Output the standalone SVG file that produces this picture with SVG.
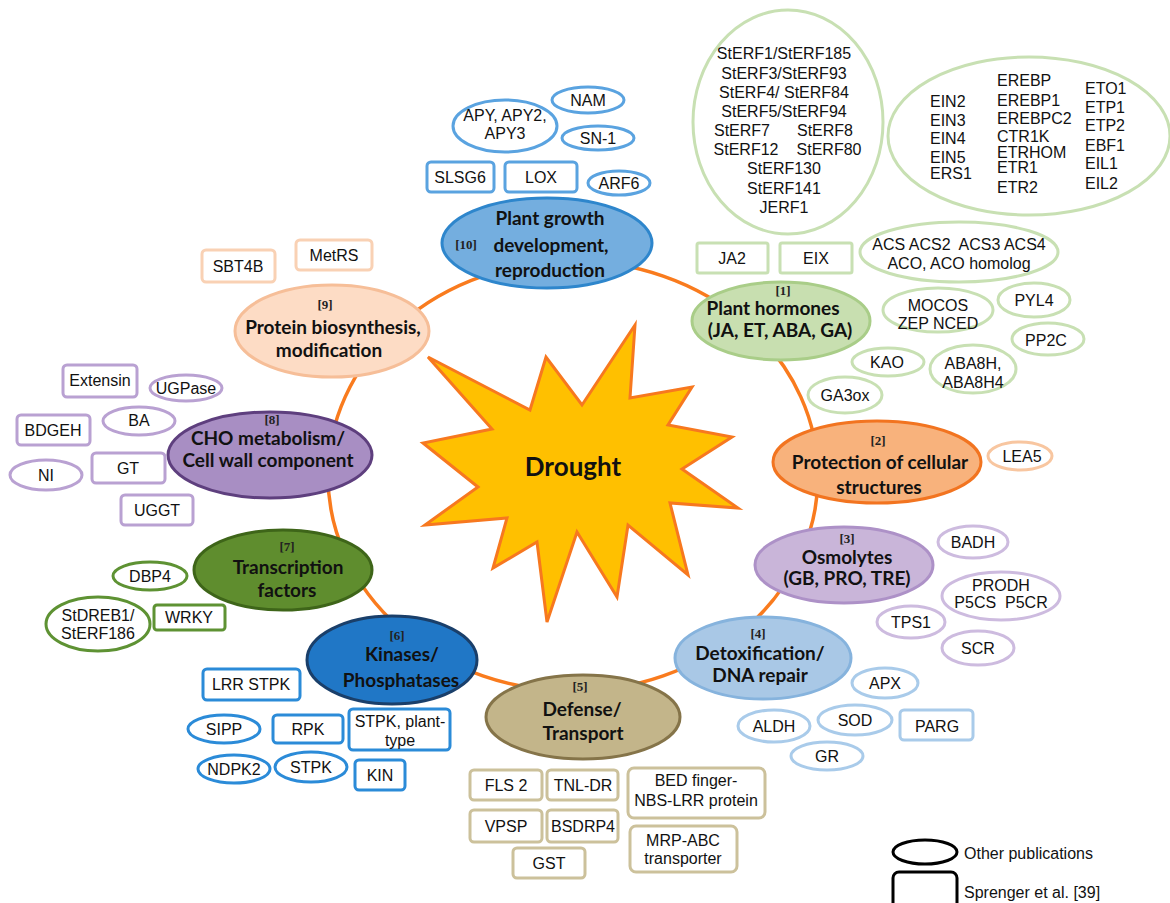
<svg xmlns="http://www.w3.org/2000/svg" width="1170" height="903" viewBox="0 0 1170 903">
<style>
.g{font-family:"Liberation Sans",Arial,sans-serif;font-size:16px;fill:#111;text-anchor:middle;white-space:pre}
.gs{font-family:"Liberation Sans",Arial,sans-serif;font-size:16px;fill:#111}
.c{font-family:Lato,"Open Sans",sans-serif;font-weight:bold;font-size:19px;fill:#111;text-anchor:middle}
.n{font-family:"Liberation Serif","Times New Roman",serif;font-weight:bold;font-size:13px;fill:#222;text-anchor:middle}
.s{fill:#fff;stroke-width:3}
.pg{stroke:#5AA3E0}.ph{stroke:#C8E0B3}.pr{stroke:#F8C6A0}.os{stroke:#CDBBDF}.dt{stroke:#A9CBEA}
.df{stroke:#CCC19B}.ki{stroke:#2B8BD8}.tf{stroke:#5E9233}.ch{stroke:#B9A1D2}.pb{stroke:#F9D1B4}
</style>
<rect width="1170" height="903" fill="#fff"/>
<g id="connectors">
<ellipse cx="573" cy="476" rx="245" ry="215" fill="none" stroke="#F97B1E" stroke-width="3.5"/>
</g>
<g id="drought">
<polygon points="635,325 630,398 692,387 668,425 732,437 682,469 738,508 670,503 688,575 628,525 617,597 577,532 547,622 537,542 493,568 507,518 425,525 478,487 423,443 492,429 428,357 530,410 546,357 582,405" fill="#FFC000" stroke="#F7781F" stroke-width="3" stroke-linejoin="miter"/>
<text x="573" y="476" class="c" style="font-size:26px">Drought</text>
</g>
<g id="cat10">
<ellipse cx="547" cy="243" rx="105" ry="45" fill="#74AEDF" stroke="#2E86CC" stroke-width="3"/>
<text x="466" y="249" class="n">[10]</text>
<text x="550" y="225" class="c">Plant growth</text>
<text x="551" y="252" class="c">development,</text>
<text x="550" y="277" class="c">reproduction</text>
</g>
<g id="cat1">
<ellipse cx="781" cy="321" rx="89" ry="39" fill="#C8DFB0" stroke="#A9CD88" stroke-width="3"/>
<text x="783" y="295" class="n">[1]</text>
<text x="773" y="315" class="c">Plant hormones</text>
<text x="780" y="337" class="c">(JA, ET, ABA, GA)</text>
</g>
<g id="cat2">
<ellipse cx="877" cy="462" rx="104" ry="41" fill="#F8B27C" stroke="#F27420" stroke-width="3"/>
<text x="878" y="445" class="n">[2]</text>
<text x="880" y="469" class="c">Protection of cellular</text>
<text x="879" y="494" class="c">structures</text>
</g>
<g id="cat3">
<ellipse cx="844" cy="565" rx="89" ry="38" fill="#C9B5D9" stroke="#AD91C7" stroke-width="3"/>
<text x="847" y="543" class="n">[3]</text>
<text x="847" y="564" class="c">Osmolytes</text>
<text x="847" y="585" class="c">(GB, PRO, TRE)</text>
</g>
<g id="cat4">
<ellipse cx="763" cy="658" rx="88" ry="41" fill="#A9C8E6" stroke="#86B3DD" stroke-width="3"/>
<text x="758" y="638" class="n">[4]</text>
<text x="760" y="660" class="c">Detoxification/</text>
<text x="760" y="682" class="c">DNA repair</text>
</g>
<g id="cat5">
<ellipse cx="583" cy="717" rx="97" ry="42" fill="#C3B58A" stroke="#857449" stroke-width="3"/>
<text x="580" y="691" class="n">[5]</text>
<text x="582" y="716" class="c">Defense/</text>
<text x="583" y="740" class="c">Transport</text>
</g>
<g id="cat6">
<ellipse cx="392" cy="660" rx="85" ry="44" fill="#2077C6" stroke="#1A3F6A" stroke-width="3"/>
<text x="397" y="640" class="n">[6]</text>
<text x="402" y="661" class="c">Kinases/</text>
<text x="401" y="687" class="c">Phosphatases</text>
</g>
<g id="cat7">
<ellipse cx="283" cy="570" rx="89" ry="40" fill="#5F8D2E" stroke="#3E6519" stroke-width="3"/>
<text x="287" y="551" class="n">[7]</text>
<text x="288" y="574" class="c">Transcription</text>
<text x="287" y="597" class="c">factors</text>
</g>
<g id="cat8">
<ellipse cx="270" cy="455" rx="102" ry="43" fill="#A88EC3" stroke="#5E3F7E" stroke-width="3"/>
<text x="272" y="424" class="n">[8]</text>
<text x="268" y="445" class="c">CHO metabolism/</text>
<text x="268" y="467" class="c">Cell wall component</text>
</g>
<g id="cat9">
<ellipse cx="332" cy="331" rx="97" ry="46" fill="#FDDCC5" stroke="#F6BE98" stroke-width="3"/>
<text x="325" y="309" class="n">[9]</text>
<text x="333" y="334" class="c">Protein biosynthesis,</text>
<text x="329" y="357" class="c">modification</text>
</g>
<!-- plant growth genes -->
<g id="APY"><ellipse cx="505" cy="126" rx="52" ry="26" class="s pg"/><text x="505" y="121" class="g">APY, APY2,</text><text x="505" y="139" class="g">APY3</text></g>
<g id="NAM"><ellipse cx="588" cy="100" rx="36" ry="13" class="s pg"/><text x="588" y="106" class="g">NAM</text></g>
<g id="SN1"><ellipse cx="598" cy="138" rx="36" ry="12" class="s pg"/><text x="598" y="144" class="g">SN-1</text></g>
<g id="SLSG6"><rect x="427" y="162" width="67" height="30" rx="4" class="s pg"/><text x="460" y="183" class="g">SLSG6</text></g>
<g id="LOX"><rect x="505" y="162" width="72" height="30" rx="4" class="s pg"/><text x="541" y="183" class="g">LOX</text></g>
<g id="ARF6"><ellipse cx="619" cy="183" rx="31" ry="12" class="s pg"/><text x="619" y="189" class="g">ARF6</text></g>
<!-- hormone genes -->
<g id="StERF"><ellipse cx="788" cy="122" rx="95" ry="112" class="s ph"/>
<text x="784" y="59" class="g">StERF1/StERF185</text>
<text x="784" y="79" class="g">StERF3/StERF93</text>
<text x="784" y="98" class="g">StERF4/ StERF84</text>
<text x="784" y="117" class="g">StERF5/StERF94</text>
<text x="742" y="136" class="g">StERF7</text><text x="825" y="136" class="g">StERF8</text>
<text x="746" y="155" class="g">StERF12</text><text x="829" y="155" class="g">StERF80</text>
<text x="784" y="174" class="g">StERF130</text>
<text x="784" y="194" class="g">StERF141</text>
<text x="784" y="213" class="g">JERF1</text>
</g>
<g id="EIN"><ellipse cx="1029" cy="136" rx="141" ry="79" class="s ph"/>
<text x="930" y="107" class="gs">EIN2</text><text x="930" y="126" class="gs">EIN3</text><text x="930" y="144" class="gs">EIN4</text><text x="930" y="163" class="gs">EIN5</text><text x="930" y="179" class="gs">ERS1</text>
<text x="997" y="86" class="gs">EREBP</text><text x="997" y="106" class="gs">EREBP1</text><text x="997" y="124" class="gs">EREBPC2</text><text x="997" y="142" class="gs">CTR1K</text><text x="997" y="158" class="gs">ETRHOM</text><text x="997" y="173" class="gs">ETR1</text><text x="997" y="193" class="gs">ETR2</text>
<text x="1085" y="94" class="gs">ETO1</text><text x="1085" y="113" class="gs">ETP1</text><text x="1085" y="131" class="gs">ETP2</text><text x="1085" y="151" class="gs">EBF1</text><text x="1085" y="169" class="gs">EIL1</text><text x="1085" y="189" class="gs">EIL2</text>
</g>
<g id="JA2"><rect x="697" y="243" width="71" height="30" rx="2" class="s ph"/><text x="732" y="264" class="g">JA2</text></g>
<g id="EIX"><rect x="780" y="243" width="72" height="30" rx="2" class="s ph"/><text x="816" y="264" class="g">EIX</text></g>
<g id="ACS"><ellipse cx="959" cy="252" rx="99" ry="30" class="s ph"/><text x="959" y="250" class="g">ACS ACS2  ACS3 ACS4</text><text x="959" y="269" class="g">ACO, ACO homolog</text></g>
<g id="MOCOS"><ellipse cx="938" cy="310" rx="55" ry="22" class="s ph"/><text x="938" y="311" class="g">MOCOS</text><text x="938" y="329" class="g">ZEP NCED</text></g>
<g id="PYL4"><ellipse cx="1034" cy="300" rx="36" ry="17" class="s ph"/><text x="1034" y="306" class="g">PYL4</text></g>
<g id="PP2C"><ellipse cx="1048" cy="339" rx="36" ry="16" class="s ph"/><text x="1046" y="346" class="g">PP2C</text></g>
<g id="KAO"><ellipse cx="888" cy="362" rx="36" ry="14" class="s ph"/><text x="887" y="368" class="g">KAO</text></g>
<g id="ABA8H"><ellipse cx="973" cy="369" rx="43" ry="24" class="s ph"/><text x="973" y="369" class="g">ABA8H,</text><text x="973" y="388" class="g">ABA8H4</text></g>
<g id="GA3ox"><ellipse cx="845" cy="395" rx="37" ry="18" class="s ph"/><text x="845" y="401" class="g">GA3ox</text></g>
<!-- protection -->
<g id="LEA5"><ellipse cx="1020" cy="456" rx="32" ry="14" class="s pr"/><text x="1022" y="462" class="g">LEA5</text></g>
<!-- osmolytes -->
<g id="BADH"><ellipse cx="973" cy="542" rx="35" ry="16" class="s os"/><text x="973" y="548" class="g">BADH</text></g>
<g id="PRODH"><ellipse cx="1001" cy="596" rx="59" ry="24" class="s os"/><text x="1001" y="591" class="g">PRODH</text><text x="1001" y="608" class="g">P5CS  P5CR</text></g>
<g id="TPS1"><ellipse cx="911" cy="622" rx="34" ry="16" class="s os"/><text x="911" y="628" class="g">TPS1</text></g>
<g id="SCR"><ellipse cx="978" cy="648" rx="36" ry="17" class="s os"/><text x="978" y="654" class="g">SCR</text></g>
<!-- detox -->
<g id="APX"><ellipse cx="885" cy="683" rx="33" ry="15" class="s dt"/><text x="885" y="689" class="g">APX</text></g>
<g id="SOD"><ellipse cx="855" cy="720" rx="37" ry="15" class="s dt"/><text x="855" y="726" class="g">SOD</text></g>
<g id="ALDH"><ellipse cx="774" cy="726" rx="36" ry="16" class="s dt"/><text x="774" y="732" class="g">ALDH</text></g>
<g id="GR"><ellipse cx="827" cy="756" rx="36" ry="14" class="s dt"/><text x="827" y="762" class="g">GR</text></g>
<g id="PARG"><rect x="900" y="710" width="73" height="30" rx="4" class="s dt"/><text x="937" y="732" class="g">PARG</text></g>
<!-- defense -->
<g id="FLS2"><rect x="470" y="770" width="72" height="30" rx="4" class="s df"/><text x="506" y="791" class="g">FLS 2</text></g>
<g id="TNLDR"><rect x="547" y="770" width="71" height="30" rx="4" class="s df"/><text x="583" y="791" class="g">TNL-DR</text></g>
<g id="VPSP"><rect x="470" y="810" width="72" height="32" rx="4" class="s df"/><text x="506" y="832" class="g">VPSP</text></g>
<g id="BSDRP4"><rect x="547" y="810" width="71" height="32" rx="4" class="s df"/><text x="583" y="832" class="g">BSDRP4</text></g>
<g id="GST"><rect x="513" y="848" width="72" height="30" rx="4" class="s df"/><text x="549" y="869" class="g">GST</text></g>
<g id="BED"><rect x="628" y="768" width="137" height="50" rx="6" class="s df"/><text x="696" y="786" class="g">BED finger-</text><text x="696" y="806" class="g">NBS-LRR protein</text></g>
<g id="MRP"><rect x="630" y="826" width="107" height="46" rx="6" class="s df"/><text x="683" y="846" class="g">MRP-ABC</text><text x="683" y="864" class="g">transporter</text></g>
<!-- kinases -->
<g id="LRRSTPK"><rect x="203" y="669" width="97" height="31" rx="4" class="s ki"/><text x="251" y="690" class="g">LRR STPK</text></g>
<g id="SIPP"><ellipse cx="224" cy="729" rx="36" ry="14" class="s ki"/><text x="224" y="735" class="g">SIPP</text></g>
<g id="RPK"><rect x="273" y="715" width="70" height="28" rx="4" class="s ki"/><text x="308" y="735" class="g">RPK</text></g>
<g id="STPKplant"><rect x="349" y="709" width="101" height="41" rx="4" class="s ki"/><text x="400" y="727" class="g">STPK, plant-</text><text x="400" y="746" class="g">type</text></g>
<g id="NDPK2"><ellipse cx="234" cy="769" rx="36" ry="14" class="s ki"/><text x="234" y="775" class="g">NDPK2</text></g>
<g id="STPK"><ellipse cx="311" cy="767" rx="36" ry="15" class="s ki"/><text x="311" y="773" class="g">STPK</text></g>
<g id="KIN"><rect x="355" y="760" width="50" height="30" rx="4" class="s ki"/><text x="380" y="781" class="g">KIN</text></g>
<!-- transcription factors -->
<g id="DBP4"><ellipse cx="150" cy="576" rx="37" ry="14" class="s tf"/><text x="150" y="582" class="g">DBP4</text></g>
<g id="StDREB1"><ellipse cx="98" cy="624" rx="52" ry="27" class="s tf"/><text x="98" y="621" class="g">StDREB1/</text><text x="98" y="639" class="g">StERF186</text></g>
<g id="WRKY"><rect x="154" y="605" width="71" height="25" rx="3" class="s tf"/><text x="189" y="623" class="g">WRKY</text></g>
<!-- CHO -->
<g id="Extensin"><rect x="63" y="365" width="74" height="32" rx="4" class="s ch"/><text x="100" y="386" class="g">Extensin</text></g>
<g id="UGPase"><ellipse cx="186" cy="388" rx="36" ry="13" class="s ch"/><text x="186" y="394" class="g">UGPase</text></g>
<g id="BA"><ellipse cx="139" cy="421" rx="36" ry="14" class="s ch"/><text x="139" y="426" class="g">BA</text></g>
<g id="BDGEH"><rect x="17" y="415" width="73" height="30" rx="4" class="s ch"/><text x="53" y="436" class="g">BDGEH</text></g>
<g id="GT"><rect x="92" y="453" width="73" height="30" rx="4" class="s ch"/><text x="128" y="474" class="g">GT</text></g>
<g id="NI"><ellipse cx="46" cy="475" rx="36" ry="15" class="s ch"/><text x="46" y="481" class="g">NI</text></g>
<g id="UGGT"><rect x="121" y="495" width="72" height="30" rx="4" class="s ch"/><text x="157" y="516" class="g">UGGT</text></g>
<!-- protein -->
<g id="SBT4B"><rect x="202" y="250" width="73" height="32" rx="4" class="s pb"/><text x="238" y="272" class="g">SBT4B</text></g>
<g id="MetRS"><rect x="296" y="240" width="76" height="30" rx="4" class="s pb"/><text x="334" y="261" class="g">MetRS</text></g>
<!-- legend -->
<g id="legend">
<ellipse cx="925" cy="852" rx="32" ry="12" fill="#fff" stroke="#000" stroke-width="3"/>
<rect x="893" y="872" width="64" height="40" rx="6" fill="#fff" stroke="#000" stroke-width="3"/>
<text x="964" y="859" class="gs">Other publications</text>
<text x="964" y="898" class="gs">Sprenger et al. [39]</text>
</g>
</svg>
